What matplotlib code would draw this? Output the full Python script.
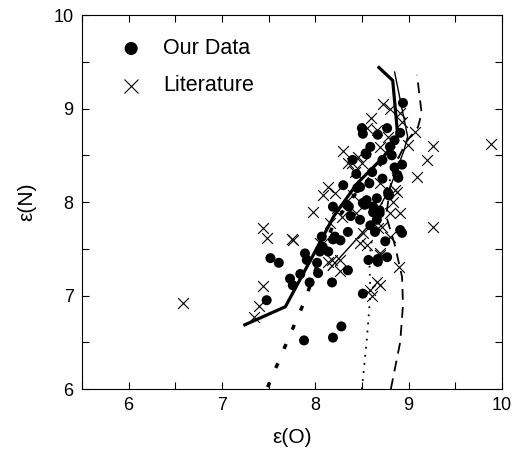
import numpy as np
import matplotlib.pyplot as plt
from matplotlib.ticker import MultipleLocator, FuncFormatter

plt.rcParams['font.family'] = ['Liberation Sans', 'DejaVu Sans']

# our data (filled circles)
our_x = [8.94, 8.50, 8.51, 8.77, 8.67, 8.85, 8.59, 8.80, 8.55, 8.40, 8.82, 8.72, 8.85, 8.93,
         8.88, 8.61, 8.30, 8.48, 8.78, 8.34, 8.51, 8.62, 8.69, 8.21, 8.27, 8.48, 8.59, 8.75,
         8.91, 8.93, 8.35, 8.54, 8.45, 8.36, 8.53, 8.66, 8.19, 8.08, 8.05, 7.89, 7.91, 8.02,
         8.14, 7.52, 7.61, 7.73, 7.76, 7.94, 8.03, 8.18, 8.35, 8.77, 8.67, 8.67, 8.57, 8.51,
         7.48, 7.84, 7.88, 8.19, 8.28, 8.07, 8.91, 8.89, 8.79, 8.55, 8.66, 8.19, 8.62, 8.69,
         8.44, 8.58, 8.72, 8.38, 8.64]
our_y = [9.06, 8.79, 8.73, 8.79, 8.72, 8.66, 8.59, 8.59, 8.51, 8.45, 8.50, 8.45, 8.37, 8.40,
         8.29, 8.32, 8.18, 8.16, 8.10, 7.97, 7.99, 7.95, 7.88, 7.63, 7.59, 7.81, 7.75, 7.58,
         7.70, 7.67, 7.68, 8.52, 8.15, 7.95, 7.97, 7.81, 7.60, 7.52, 7.47, 7.45, 7.38, 7.35,
         7.47, 7.40, 7.35, 7.18, 7.11, 7.14, 7.24, 7.14, 7.27, 7.41, 7.36, 7.39, 7.38, 7.02,
         6.95, 7.23, 6.52, 6.55, 6.67, 7.63, 8.74, 8.26, 8.07, 8.02, 8.04, 7.95, 7.89, 7.91,
         8.30, 8.20, 8.25, 7.85, 7.68]

# literature (crosses)
lit_x = [8.73, 9.26, 9.20, 9.09, 9.26, 9.88, 8.90, 8.66, 8.69, 8.59, 8.61, 8.69, 8.14, 8.27,
         8.27, 7.44, 7.48, 7.76, 7.44, 7.40, 7.34, 6.58, 7.98, 8.05, 8.55, 8.66, 8.78, 8.91,
         8.93, 9.07, 8.99, 8.69, 8.39, 8.46, 8.43, 8.50, 8.14, 8.08, 8.21, 8.40, 8.69, 8.85,
         8.88, 8.23, 8.44, 8.80, 8.91, 8.29, 8.67, 8.71, 8.48, 8.08, 8.83, 8.35, 8.16, 8.18,
         8.51, 8.55, 8.69, 8.80, 7.75, 8.30, 8.60, 8.80]
lit_y = [9.05, 8.60, 8.45, 8.27, 7.73, 8.62, 7.30, 7.14, 7.11, 7.06, 7.00, 7.43, 7.36, 7.38,
         7.26, 7.72, 7.61, 7.59, 7.10, 6.89, 6.77, 6.92, 7.89, 7.56, 8.79, 8.77, 8.70, 8.95,
         8.86, 8.75, 8.61, 8.59, 8.42, 8.48, 8.32, 8.42, 8.16, 8.07, 8.10, 8.07, 8.20, 8.13,
         8.11, 7.94, 7.88, 7.88, 7.88, 7.84, 7.72, 7.73, 7.56, 7.56, 8.00, 8.42, 7.78, 7.38,
         7.67, 7.54, 7.45, 7.63, 7.60, 8.55, 8.90, 9.00]

# model curves
thick_x = [7.23, 7.68, 7.95, 8.20, 8.45, 8.70, 8.87, 8.88, 8.83, 8.67]
thick_y = [6.68, 6.88, 7.38, 7.85, 8.20, 8.45, 8.65, 8.75, 9.30, 9.45]
thin_x = [8.14, 8.35, 8.60, 8.80, 8.95, 8.99, 8.85]
thin_y = [7.27, 7.50, 7.78, 8.15, 8.55, 8.70, 9.39]
dash_x = [8.81, 8.91, 8.94, 8.93, 8.85, 8.76, 8.80, 8.88, 8.98, 9.10, 9.14, 9.09]
dash_y = [6.00, 6.50, 6.90, 7.20, 7.55, 7.85, 8.15, 8.45, 8.65, 8.80, 8.95, 9.36]
dot_x = [8.50, 8.55, 8.59, 8.58, 8.62, 8.75, 8.90]
dot_y = [6.00, 6.50, 7.00, 7.40, 7.70, 8.10, 8.50]
dd_x = [7.49, 7.73, 7.89, 8.03, 8.19, 8.40, 8.62, 8.85]
dd_y = [6.02, 6.58, 6.95, 7.35, 7.75, 8.05, 8.30, 8.60]

fig = plt.figure(figsize=(5.18, 4.55), dpi=100)
ax = fig.add_axes([0.158, 0.145, 0.811, 0.822])

ax.plot(thick_x, thick_y, color='black', lw=2.3, solid_capstyle='butt')
ax.plot(thin_x, thin_y, color='black', lw=1.0)
ax.plot(dash_x, dash_y, color='black', lw=1.3, dashes=(6, 4))
ax.plot(dot_x, dot_y, color='black', lw=1.3, dashes=(1, 3.5))
ax.plot(dd_x, dd_y, color='black', lw=2.5, dashes=(1.5, 4.5))

ax.scatter(lit_x, lit_y, marker='x', s=60, c='black', linewidths=0.8, label='Literature', zorder=3)
ax.scatter(our_x, our_y, marker='o', s=52, c='black', edgecolors='none', label='Our Data', zorder=4)

h, l = ax.get_legend_handles_labels()
ax.legend(h[::-1], l[::-1], loc='upper left', frameon=False, fontsize=15.5,
          bbox_to_anchor=(0.02, 0.99), handletextpad=0.5, labelspacing=0.75,
          scatterpoints=1, markerscale=1.3)

ax.set_xlim(5.5, 10)
ax.set_ylim(6, 10)
ax.xaxis.set_major_locator(MultipleLocator(1))
ax.xaxis.set_minor_locator(MultipleLocator(0.5))
ax.yaxis.set_major_locator(MultipleLocator(1))
ax.yaxis.set_minor_locator(MultipleLocator(0.5))
ax.xaxis.set_major_formatter(FuncFormatter(lambda v, p: '%d' % v))
ax.yaxis.set_major_formatter(FuncFormatter(lambda v, p: '%d' % v))
ax.tick_params(which='both', direction='in', top=True, right=True, length=5, width=0.8,
               labelsize=13, pad=6)
for s in ax.spines.values():
    s.set_linewidth(0.8)

ax.set_xlabel('ε(O)', fontsize=15, labelpad=10)
ax.set_ylabel('ε(N)', fontsize=15, labelpad=12)

fig.savefig('out.png', dpi=100)
